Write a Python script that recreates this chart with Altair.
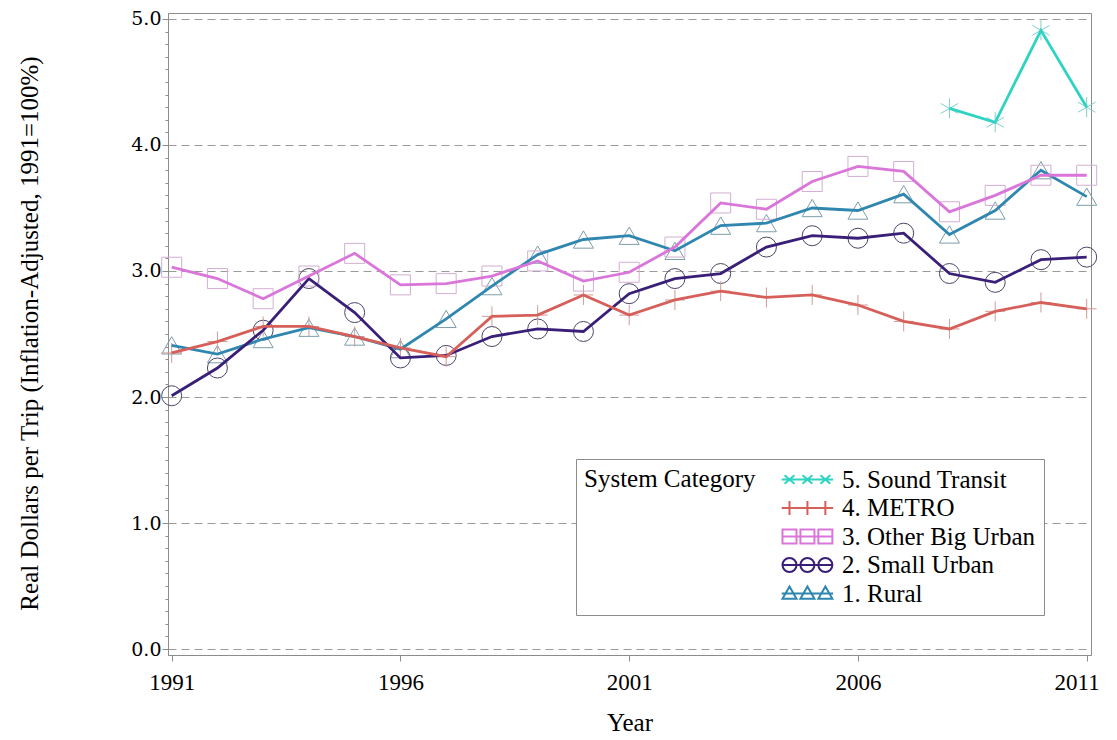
import altair as alt
import pandas as pd

# ---------------- data ----------------
years = list(range(1991, 2012))
rural = [2.41, 2.34, 2.46, 2.55, 2.48, 2.38, 2.62, 2.88, 3.13, 3.25, 3.28,
         3.16, 3.36, 3.38, 3.50, 3.48, 3.61, 3.29, 3.48, 3.80, 3.59]
small_urban = [2.01, 2.23, 2.53, 2.94, 2.67, 2.31, 2.33, 2.48, 2.54, 2.52, 2.82,
               2.94, 2.98, 3.19, 3.28, 3.26, 3.30, 2.98, 2.91, 3.09, 3.11]
other_big_urban = [3.03, 2.94, 2.78, 2.96, 3.14, 2.89, 2.90, 2.96, 3.08, 2.92, 2.99,
                   3.19, 3.54, 3.49, 3.71, 3.83, 3.79, 3.47, 3.60, 3.76, 3.76]
metro = [2.35, 2.44, 2.56, 2.56, 2.48, 2.39, 2.32, 2.64, 2.65, 2.81, 2.65,
         2.77, 2.84, 2.79, 2.81, 2.73, 2.60, 2.54, 2.68, 2.75, 2.70]
sound_transit_years = [2008, 2009, 2010, 2011]
sound_transit = [4.29, 4.18, 4.91, 4.30]

series_names = ["1. Rural", "2. Small Urban", "3. Other Big Urban",
                "4. METRO", "5. Sound Transit"]
x_tick_values = [1991, 1996, 2001, 2006, 2011]

# ---------------- styles ----------------
line_colors = ["#2F87B0", "#3A1F78", "#DA76DA", "#D65F5A", "#2FD3C3"]
marker_colors = ["#7C9DAA", "#4D4466", "#D2AED2", "#CF9A98", "#80CFCB"]
PLUS = "M-1,0L1,0M0,-1L0,1"
STAR = "M0,-1L0,1M-0.87,-0.5L0.87,0.5M-0.87,0.5L0.87,-0.5"
marker_shapes = ["triangle-up", "circle", "square", PLUS, STAR]


def legend_path(kind):
    r = 0.9
    centers = [0.0, 2.3, 4.6]
    p = "M-1,0L5.6,0"
    for c in centers:
        if kind == "tri":
            p += f"M{c},{-r}L{c + r},{r * 0.75}L{c - r},{r * 0.75}Z"
        elif kind == "circ":
            p += f"M{c + r},0A{r},{r} 0 1,1 {c - r},0A{r},{r} 0 1,1 {c + r},0"
        elif kind == "sq":
            p += f"M{c - r},{-r}L{c + r},{-r}L{c + r},{r}L{c - r},{r}Z"
        elif kind == "plus":
            p += f"M{c},{-r}L{c},{r}"
        else:
            p += (f"M{c - 0.7 * r},{-0.6 * r}L{c + 0.7 * r},{0.6 * r}"
                  f"M{c - 0.7 * r},{0.6 * r}L{c + 0.7 * r},{-0.6 * r}")
    return p


legend_shapes = [legend_path(k) for k in ["tri", "circ", "sq", "plus", "star"]]

rows = []
for name, yrs, vals in [
    (series_names[0], years, rural),
    (series_names[1], years, small_urban),
    (series_names[2], years, other_big_urban),
    (series_names[3], years, metro),
    (series_names[4], sound_transit_years, sound_transit),
]:
    for yr, v in zip(yrs, vals):
        rows.append({"Year": yr, "Value": v, "Series": name})
df = pd.DataFrame(rows)

FONT = "Liberation Serif"
TICKFONT = "DejaVu Serif"
minor_vals = [round(i * 0.1, 1) for i in range(51)]
is_major = "abs(datum.value - round(datum.value)) < 0.001"

x_enc = alt.X("Year:Q",
              scale=alt.Scale(domain=[1990.92, 2011.094], nice=False, zero=False),
              axis=alt.Axis(values=x_tick_values, format="d", title="Year",
                            grid=False, tickSize=6, labelPadding=10,
                            labelFont=FONT, labelFontSize=23,
                            labelOffset={"condition": {"test": "datum.value == 2011", "value": -10},
                                         "value": 0},
                            titleFontSize=25, titleBaseline="alphabetic",
                            titleY=75))
y_enc = alt.Y("Value:Q",
              scale=alt.Scale(domain=[-0.0476, 5.0476], nice=False, zero=False),
              axis=alt.Axis(values=minor_vals,
                            labelExpr=f"{is_major} ? format(datum.value, '.1f') : ''",
                            title="Real Dollars per Trip (Inflation-Adjusted, 1991=100%)",
                            grid=True,
                            gridOpacity={"condition": {"test": is_major, "value": 1}, "value": 0},
                            tickSize={"condition": {"test": is_major, "value": 6}, "value": 3},
                            gridDash=[8, 5], gridColor="#9a9a9a", gridWidth=1.2,
                            labelFont=TICKFONT, labelFontSize=19, labelPadding=1,
                            titleFontSize=25, titleBaseline="alphabetic",
                            titleAlign="center", titleX=-131, titleY=320))

rev = list(reversed(series_names))
legend_kw = dict(
    orient="none", legendX=408, legendY=446, direction="vertical",
    titleOrient="left", titleAnchor="start", fillColor="white", strokeColor="#8c8c8c",
    padding=8, symbolSize=243, symbolStrokeWidth=2, labelOffset=40,
    rowPadding=2.5, labelFont=FONT, labelFontSize=25, labelColor="black",
    titleFont=FONT, titleFontSize=25, titleFontWeight="normal",
    titleColor="black", titlePadding=21, labelLimit=400, titleLimit=400,
)

markers = alt.Chart(df).mark_point(filled=False, size=400, strokeWidth=1, opacity=1).encode(
    x=x_enc, y=y_enc,
    stroke=alt.Stroke("Series:N", scale=alt.Scale(domain=series_names, range=marker_colors), legend=None),
    shape=alt.Shape("Series:N", scale=alt.Scale(domain=series_names, range=marker_shapes), legend=None),
)

lines = alt.Chart(df).mark_line(strokeWidth=2.8).encode(
    x=x_enc, y=y_enc,
    stroke=alt.Stroke("Series:N", scale=alt.Scale(domain=series_names, range=line_colors), legend=None),
    detail="Series:N",
)

legend_layer = alt.Chart(df).transform_filter("false").mark_point(
    filled=False, size=243, strokeWidth=2, opacity=1).encode(
    x=x_enc, y=y_enc,
    stroke=alt.Stroke("Series:N",
                      scale=alt.Scale(domain=rev, range=list(reversed(line_colors))),
                      legend=alt.Legend(title="System Category", **legend_kw)),
    shape=alt.Shape("Series:N",
                    scale=alt.Scale(domain=rev, range=list(reversed(legend_shapes))),
                    legend=alt.Legend(title="System Category", **legend_kw)),
)

chart = alt.layer(markers, lines, legend_layer).resolve_scale(
    stroke="independent", shape="independent"
).properties(
    width=923, height=642,
    autosize=alt.AutoSizeParams(type="none"),
    padding={"left": 160, "top": 5, "right": 10, "bottom": 80},
).configure_view(
    stroke="#8c8c8c", strokeWidth=1
).configure_axis(
    titleFont=FONT, titleFontWeight="normal", labelColor="black", titleColor="black",
    domainColor="#8c8c8c", tickColor="#8c8c8c",
)

chart.save("out.html", embed_options={"renderer": "svg", "actions": False})
